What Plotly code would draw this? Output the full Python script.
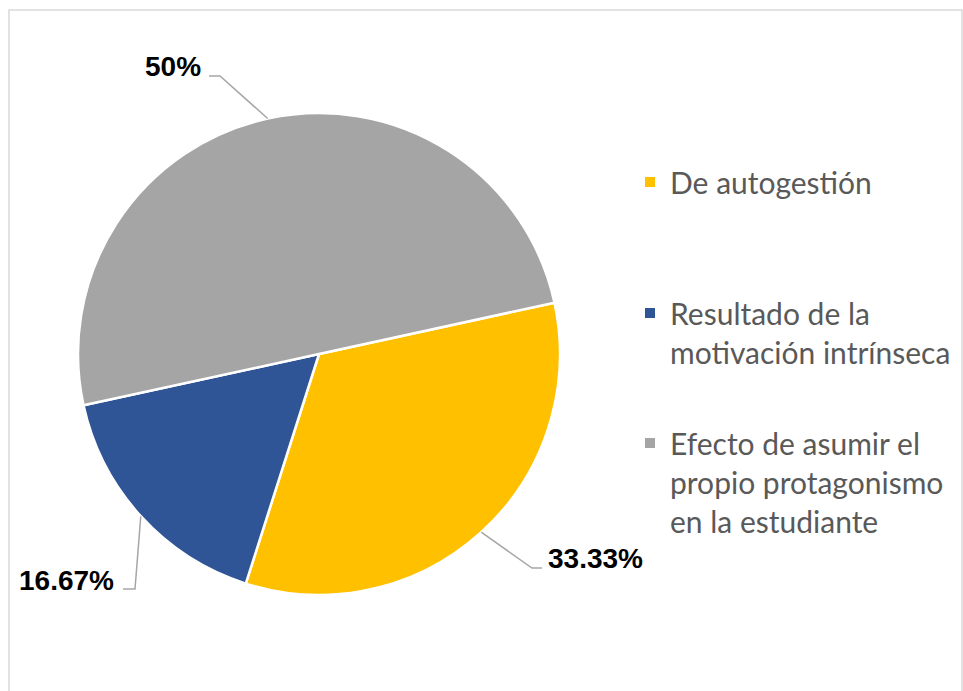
import math
import plotly.graph_objects as go

# ---- data ----
labels = ["De autogestión", "Resultado de la motivación intrínseca",
          "Efecto de asumir el propio protagonismo en la estudiante"]
legend_text = ["De autogestión", "Resultado de la<br>motivación intrínseca",
               "Efecto de asumir el<br>propio protagonismo<br>en la estudiante"]
values = [33.33, 16.67, 50.0]
colors = ["#FFC000", "#2F5597", "#A5A5A5"]

# ---- layout constants (pixels) ----
W, H = 963, 691
CX, CY, R = 319, 354, 241
ROT = 77.7

def px(x):
    return x / W

def py(y):
    return 1 - y / H

fig = go.Figure()
fig.add_trace(go.Pie(
    labels=labels, values=values, sort=False, direction="clockwise",
    rotation=ROT, textinfo="none", hoverinfo="label+percent",
    marker=dict(colors=colors, line=dict(color="white", width=2.5)),
    domain=dict(x=[px(CX - R), px(CX + R)], y=[py(CY + R), py(CY - R)]),
    showlegend=False,
))

# legend entries (one legend each so they can be spaced like the original)
legend_names = ["legend", "legend2", "legend3"]
legend_tops = [156, 287, 417]
for name, txt, col in zip(legend_names, legend_text, colors):
    fig.add_trace(go.Scatter(
        x=[None], y=[None], mode="markers", name=txt, legend=name,
        marker=dict(symbol="square", size=10, color=col),
        showlegend=True,
    ))

leg_common = dict(font=dict(family="Lato", size=30, color="#595959"),
                  bgcolor="rgba(0,0,0,0)", valign="top", xanchor="left",
                  yanchor="top", itemclick=False, itemdoubleclick=False)
layout_legends = {}
for name, top in zip(legend_names, legend_tops):
    layout_legends[name] = dict(x=px(630), y=py(top), **leg_common)

# data labels with leader lines
label_pos = [(546, 558, "left"), (116, 580, "right"), (203, 66, "right")]
elbows = [((532, 568), (542, 568)), ((135, 589), (123, 589)), ((220, 76), (209, 76))]
total = sum(values)
annotations = []
shapes = []
cum = 0.0
for v, (lx, ly, anc), (e1, e2) in zip(values, label_pos, elbows):
    mid = ROT + (cum + v / 2) / total * 360
    cum += v
    a = math.radians(mid)
    ex, ey = CX + R * math.sin(a), CY - R * math.cos(a)
    path = f"M {px(ex)},{py(ey)} L {px(e1[0])},{py(e1[1])} L {px(e2[0])},{py(e2[1])}"
    shapes.append(dict(type="path", xref="paper", yref="paper", path=path,
                       line=dict(color="#A6A6A6", width=1.5)))
    annotations.append(dict(
        x=px(lx), y=py(ly), xref="paper", yref="paper", xanchor=anc, yanchor="middle",
        text=f"<b>{v:g}%</b>", showarrow=False,
        font=dict(family="Liberation Sans", size=28, color="#000000")))

# chart border
shapes.append(dict(type="rect", xref="paper", yref="paper",
                   x0=px(9), x1=px(962), y0=-0.05, y1=py(10),
                   line=dict(color="#D9D9D9", width=1.5), fillcolor="rgba(0,0,0,0)"))

fig.update_layout(
    width=W, height=H, margin=dict(l=0, r=0, t=0, b=0),
    paper_bgcolor="white", plot_bgcolor="white",
    xaxis=dict(visible=False), yaxis=dict(visible=False),
    annotations=annotations, shapes=shapes,
    **layout_legends,
)

fig.write_html("out.html", config={"displayModeBar": False},
               post_script="document.body.style.margin='0';document.body.style.overflow='hidden';")
